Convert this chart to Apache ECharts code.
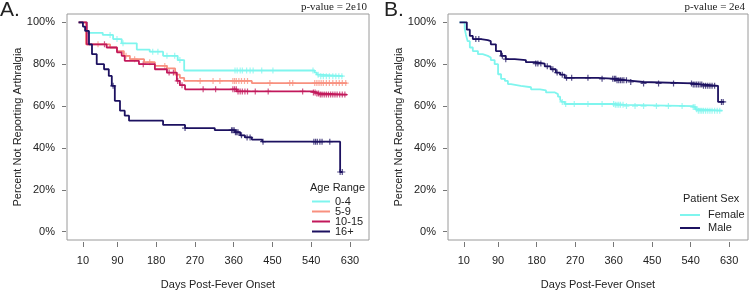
<!DOCTYPE html>
<html>
<head>
<meta charset="utf-8">
<script src="https://cdn.jsdelivr.net/npm/echarts@6/dist/echarts.min.js"></script>
<style>
  html, body { margin: 0; padding: 0; background: #fff; }
  #chart { width: 750px; height: 292px; }
</style>
</head>
<body>
<div id="chart"></div>
<script>
// tick labels
const xTicks = [10, 90, 180, 270, 360, 450, 540, 630];
const yTicks = [0, 20, 40, 60, 80, 100];

// Panel A: age range, KM step curves (day, % not reporting)
const ageNames = ['0-4', '5-9', '10-15', '16+'];
const age04T = [0, 19, 56, 80, 100, 135, 165, 196, 230, 245, 548, 553, 558, 614];
const age04S = [100, 95, 94, 92, 90, 87, 86, 84, 82, 77, 76, 75, 74.3, 74.3];
const age59T = [0, 17, 73, 89, 105, 119, 152, 177, 205, 224, 235, 245, 402, 623];
const age59S = [100, 89.5, 88, 86.3, 84, 82.4, 81, 79.2, 78, 75, 73.5, 72, 71, 71];
const age1015T = [0, 19, 65, 89, 100, 107, 140, 177, 205, 228, 235, 247, 367, 544, 552, 560, 623];
const age1015S = [100, 89.5, 88, 85.7, 84, 81.6, 80, 77.6, 76, 72, 70, 68, 67, 66.5, 66, 65.5, 65.5];
const age16T = [0, 10, 15, 24, 31, 42, 59, 70, 77, 84, 96, 107, 117, 196, 247, 316, 363, 375, 386, 402, 426, 607, 612];
const age16S = [100, 98, 95.9, 89.5, 84.8, 80, 77.6, 74.4, 69.7, 62.5, 57.8, 55.4, 53, 51, 49.5, 48.5, 47.5, 46, 45, 44, 43, 28.5, 28.5];

// censor times (+ marks)
const age04C = [73, 89, 103, 172, 184, 205, 223, 235, 363, 368, 375, 380, 390, 398, 405, 425, 451, 544, 556, 562, 568, 575, 582, 590, 597, 604, 611];
const age59C = [45, 110, 130, 165, 200, 282, 312, 328, 358, 362, 366, 372, 378, 385, 392, 444, 490, 497, 548, 553, 558, 563, 568, 575, 582, 590, 598, 605, 612, 620];
const age1015C = [60, 150, 210, 220, 230, 240, 289, 318, 358, 362, 366, 370, 375, 380, 386, 392, 410, 440, 520, 545, 549, 553, 557, 561, 565, 570, 575, 580, 585, 590, 595, 600, 606, 612, 618];
const age16C = [80, 247, 355, 358, 361, 364, 367, 370, 378, 391, 398, 428, 546, 550, 554, 560, 565, 583, 607, 612];

// Panel B: patient sex
const sexNames = ['Female', 'Male'];
const femT = [0, 12, 15, 19, 24, 31, 43, 54, 66, 73, 82, 90, 97, 106, 113, 120, 143, 167, 188, 202, 223, 230, 235, 239, 246, 363, 387, 546, 551, 555, 614];
const femS = [100, 97, 94, 91, 88, 86.3, 84.8, 84, 83.2, 82, 80, 75.2, 73, 72, 70.5, 69.7, 69, 68, 67.5, 66.5, 65.7, 64.5, 63, 62, 61, 60.6, 60, 59.5, 58.5, 57.8, 57.8];
const maleT = [0, 12, 17, 24, 31, 50, 66, 73, 85, 97, 108, 129, 155, 178, 199, 213, 225, 235, 246, 323, 368, 391, 429, 546, 569, 604, 618];
const maleS = [100, 100, 96.5, 93.5, 92, 91.5, 91, 89.5, 86.3, 84, 82.4, 82, 81, 80.3, 79, 77.6, 76, 75, 73.5, 73, 72.3, 71.5, 70.8, 70.3, 69.7, 62, 62];
const femC = [240, 248, 268, 300, 333, 360, 364, 368, 372, 376, 382, 390, 410, 430, 460, 488, 520, 546, 550, 554, 558, 562, 566, 570, 575, 580, 585, 590, 596, 602, 608];
const maleC = [38, 45, 100, 108, 178, 183, 190, 205, 218, 228, 240, 250, 262, 300, 333, 358, 362, 365, 368, 372, 376, 380, 384, 390, 400, 430, 465, 500, 542, 546, 550, 554, 558, 562, 566, 570, 575, 580, 585, 590, 596, 612, 616];

const colors = ['#7ff5ee', '#f8907f', '#c2185b', '#1c1160'];
const sexColors = ['#7ff5ee', '#1c1160'];

const pair = (t, s) => t.map((d, i) => [d, s[i]]);
// survival value at a censor time
const valueAt = (t, s, d) => {
  let v = s[0];
  for (let i = 0; i < t.length; i++) { if (t[i] <= d) v = s[i]; }
  return v;
};
const plus = 'path://M2,0h1v2h2v1h-2v2h-1v-2h-2v-1h2z';

const lineSeries = (name, t, s, color, idx) => ({
  name: name, type: 'line', step: 'end', xAxisIndex: idx, yAxisIndex: idx,
  data: pair(t, s), showSymbol: false, symbol: 'none', z: 3,
  lineStyle: { color: color, width: 1.8 }, itemStyle: { color: color },
  animation: false
});
const censorSeries = (name, t, s, c, color, idx) => ({
  name: name + ' censored', type: 'scatter', xAxisIndex: idx, yAxisIndex: idx,
  data: c.map(d => [d, valueAt(t, s, d)]), symbol: plus, symbolSize: 6, z: 2,
  itemStyle: { color: color, opacity: 0.75 }, animation: false
});

const xAxisBase = (idx) => ({
  type: 'value', gridIndex: idx, min: -27, max: 674, position: 'bottom', offset: 2,
  name: 'Days Post-Fever Onset', nameLocation: 'middle', nameGap: 37,
  nameTextStyle: { fontFamily: 'Liberation Sans', fontSize: 11, color: '#222' },
  axisLine: { show: false, onZero: false },
  axisTick: { show: true, inside: false, length: 5, customValues: xTicks, lineStyle: { color: '#777' } },
  axisLabel: { customValues: xTicks, margin: 13, fontFamily: 'Liberation Sans', fontSize: 11, color: '#222' },
  splitLine: { show: false }
});
const yAxisBase = (idx) => ({
  type: 'value', gridIndex: idx, min: -4, max: 104, position: 'left', offset: 1,
  name: 'Percent Not Reporting Arthralgia', nameLocation: 'middle', nameGap: 43, nameMoveOverlap: false,
  nameTextStyle: { fontFamily: 'Liberation Sans', fontSize: 11, color: '#222' },
  axisLine: { show: false, onZero: false },
  axisTick: { show: true, inside: false, length: 4, customValues: yTicks, lineStyle: { color: '#777' } },
  axisLabel: { customValues: yTicks, formatter: '{value}%', margin: 11, fontFamily: 'Liberation Sans', fontSize: 11, color: '#222' },
  splitLine: { show: false }
});

const txt = (text, x, y, size, family, align) => ({
  type: 'text', x: x, y: y,
  style: { text: text, font: size + 'px "' + family + '"', fill: '#222', align: align, verticalAlign: 'middle' }
});

const chart = echarts.init(document.getElementById('chart'));
chart.setOption({
  animation: false,
  grid: [
    { left: 67, right: 381, top: 14, bottom: 52, outerBoundsMode: 'none', show: true, borderColor: '#9a9a9a', borderWidth: 1, backgroundColor: '#fff' },
    { left: 448, right: 2, top: 14, bottom: 52, outerBoundsMode: 'none', show: true, borderColor: '#9a9a9a', borderWidth: 1, backgroundColor: '#fff' }
  ],
  xAxis: [xAxisBase(0), xAxisBase(1)],
  yAxis: [yAxisBase(0), yAxisBase(1)],
  legend: [
    {
      data: ageNames, orient: 'vertical', left: 312, top: 196, itemGap: -1, padding: 0,
      itemWidth: 18, itemHeight: 2, icon: 'rect', selectedMode: false,
      textStyle: { fontFamily: 'Liberation Sans', fontSize: 11, lineHeight: 10, color: '#222' }
    },
    {
      data: sexNames, orient: 'vertical', left: 680, top: 209.5, itemGap: 2, padding: 0,
      itemWidth: 20, itemHeight: 2, icon: 'rect', selectedMode: false,
      textStyle: { fontFamily: 'Liberation Sans', fontSize: 11, lineHeight: 11, color: '#222', padding: [0, 0, 0, 3] }
    }
  ],
  graphic: [
    txt('A.', 0, 10, 21, 'Liberation Sans', 'left'),
    txt('B.', 384, 10, 21, 'Liberation Sans', 'left'),
    txt('p-value = 2e10', 367, 7, 11, 'Liberation Serif', 'right'),
    txt('p-value = 2e4', 745, 7, 11, 'Liberation Serif', 'right'),
    txt('Age Range', 310, 188, 11, 'Liberation Sans', 'left'),
    txt('Patient Sex', 683, 199, 11, 'Liberation Sans', 'left')
  ],
  series: [
    censorSeries('0-4', age04T, age04S, age04C, colors[0], 0),
    censorSeries('5-9', age59T, age59S, age59C, colors[1], 0),
    censorSeries('10-15', age1015T, age1015S, age1015C, colors[2], 0),
    censorSeries('16+', age16T, age16S, age16C, colors[3], 0),
    lineSeries('0-4', age04T, age04S, colors[0], 0),
    lineSeries('5-9', age59T, age59S, colors[1], 0),
    lineSeries('10-15', age1015T, age1015S, colors[2], 0),
    lineSeries('16+', age16T, age16S, colors[3], 0),
    censorSeries('Female', femT, femS, femC, sexColors[0], 1),
    censorSeries('Male', maleT, maleS, maleC, sexColors[1], 1),
    lineSeries('Female', femT, femS, sexColors[0], 1),
    lineSeries('Male', maleT, maleS, sexColors[1], 1)
  ]
});
</script>
</body>
</html>
